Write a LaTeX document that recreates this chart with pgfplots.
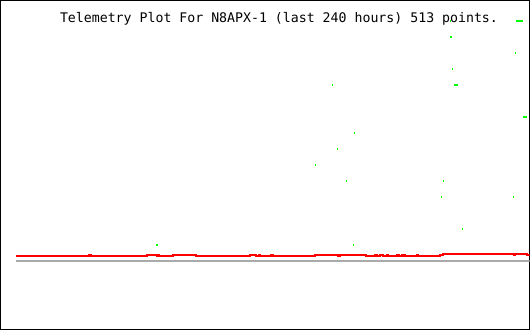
\documentclass[border=0pt]{standalone}
\usepackage{pgfplots}
\pgfplotsset{compat=1.18}
\usepackage{fontspec}
\setmonofont{DejaVu Sans Mono}
\definecolor{tgreen}{RGB}{0,255,0}
\definecolor{tred}{RGB}{255,0,0}
\definecolor{tgray}{RGB}{170,170,170}
\begin{document}
\begin{tikzpicture}
\begin{axis}[
  width=530bp, height=330bp, scale only axis,
  xmin=0, xmax=530, ymin=0, ymax=330,
  xtick=\empty, ytick=\empty,
  axis line style={black, line width=1bp},
  clip=true,
]
% gray reference line
\addplot[tgray, line width=2bp, no marks] coordinates {(16,69) (530,69)};
% red telemetry line
\addplot[tred, line width=2bp, no marks, const plot] coordinates {
(16,74) (89,75) (91,74) (147,75) (157,74) (158,75) (159,74) (173,75) (196,74)
(250,75) (256,74) (259,75) (260,74) (271,75) (273,74) (315,75) (338,74) (340,75)
(366,74) (375,75) (377,74) (380,75) (383,74) (387,75) (388,74) (397,75) (399,74)
(402,75) (403,74) (404,75) (405,74) (417,75) (418,74) (440,75) (443,76) (514,75)
(515,76) (527,75) (530,75)
};
% green scattered points
\addplot[only marks, mark=|, mark size=1bp, tgreen, line width=1bp] coordinates {
(450.5,309) (516.5,309) (517.5,309) (518.5,309) (519.5,309) (520.5,309) (521.5,309) (522.5,309)
(450.5,293) (451.5,293)
(515.5,277)
(452.5,261)
(332.5,245)
(454.5,245) (455.5,245) (456.5,245) (457.5,245)
(523.5,213) (524.5,213) (525.5,213) (526.5,213)
(354.5,197)
(337.5,181)
(315.5,165)
(346.5,149)
(443.5,149)
(441.5,133)
(513.5,133)
(462.5,101)
(156.5,85) (157.5,85)
(353.5,85)
};
\node[anchor=base, inner sep=0pt, font=\fontsize{13.3}{16}\selectfont\ttfamily] at (axis cs:279,308) {Telemetry Plot For N8APX-1 (last 240 hours) 513 points.};
\end{axis}
\end{tikzpicture}
\end{document}
